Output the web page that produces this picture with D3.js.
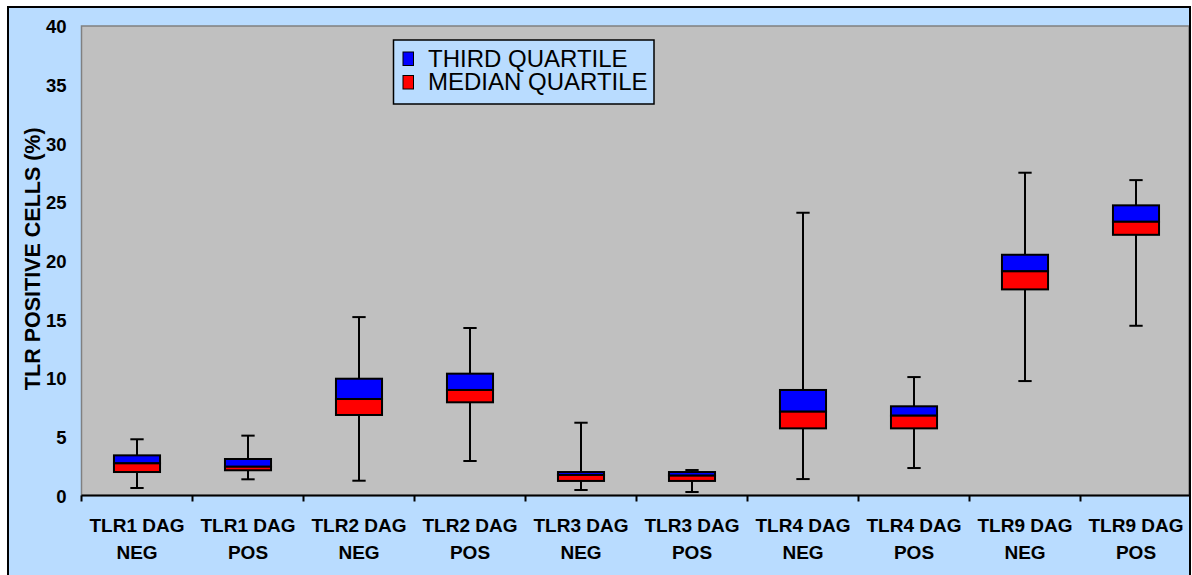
<!DOCTYPE html>
<html>
<head>
<meta charset="utf-8">
<script src="https://cdn.jsdelivr.net/npm/d3@7"></script>
<style>
  html, body { margin: 0; padding: 0; background: #ffffff; }
  svg { display: block; font-family: "Liberation Sans", Arial, sans-serif; }
</style>
</head>
<body>
<svg id="chart" width="1192" height="575"></svg>
<script>
// Groups along the x axis (two-line labels)
const categories = [
  ["TLR1 DAG", "NEG"], ["TLR1 DAG", "POS"],
  ["TLR2 DAG", "NEG"], ["TLR2 DAG", "POS"],
  ["TLR3 DAG", "NEG"], ["TLR3 DAG", "POS"],
  ["TLR4 DAG", "NEG"], ["TLR4 DAG", "POS"],
  ["TLR9 DAG", "NEG"], ["TLR9 DAG", "POS"]
];

// Five-number summaries, % TLR positive cells
const whiskerLow  = [0.64, 1.38, 1.26, 2.94, 0.47, 0.30, 1.40, 2.34, 9.75, 14.46];
const firstQuart  = [2.00, 2.15, 6.86, 7.94, 1.24, 1.24, 5.72, 5.72, 17.56, 22.21];
const medianQuart = [2.74, 2.45, 8.22, 8.99, 1.75, 1.69, 7.14, 6.80, 19.10, 23.32];
const thirdQuart  = [3.42, 3.11, 9.95, 10.38, 2.00, 2.00, 8.99, 7.60, 20.51, 24.72];
const whiskerHigh = [4.79, 5.10, 15.20, 14.27, 6.20, 2.17, 24.09, 10.09, 27.50, 26.87];

const yTicks = [0, 5, 10, 15, 20, 25, 30, 35, 40];
const legendItems = ["THIRD QUARTILE", "MEDIAN QUARTILE"];
const yTitle = "TLR POSITIVE CELLS (%)";

const colors = { third: "#0000FF", median: "#FF0000", plot: "#C0C0C0", frame: "#B9DCFF" };

const svg = d3.select("#chart");
const plot = { left: 81.5, right: 1191.5, top: 26, bottom: 495.5 };

const x = d3.scaleBand()
  .domain(d3.range(categories.length))
  .range([plot.left, plot.right])
  .padding(0);

const y = d3.scaleLinear()
  .domain([0, 40])
  .range([plot.bottom, plot.top]);

// Chart frame
svg.append("rect")
  .attr("x", 8).attr("y", 7)
  .attr("width", 1182).attr("height", 600)
  .attr("fill", colors.frame)
  .attr("stroke", "#000").attr("stroke-width", 2);

// Plot area
svg.append("rect")
  .attr("x", plot.left).attr("y", plot.top)
  .attr("width", 1189 - plot.left).attr("height", plot.bottom - plot.top)
  .attr("fill", colors.plot)
  .attr("stroke", "#808080").attr("stroke-width", 1.5);

// Redraw right frame edge over the plot area
svg.append("line")
  .attr("x1", 1190).attr("x2", 1190).attr("y1", 6).attr("y2", 575)
  .attr("stroke", "#000").attr("stroke-width", 2);

// Y axis tick labels
const yAxis = d3.axisLeft(y).tickValues(yTicks).tickSize(0).tickPadding(15);
const yg = svg.append("g").attr("transform", `translate(${plot.left},0)`).call(yAxis);
yg.select(".domain").remove();
yg.selectAll("text")
  .attr("font-family", "'Liberation Sans', Arial, sans-serif")
  .attr("font-size", 18.5).attr("font-weight", "bold").attr("fill", "#000")
  .attr("dy", "0.36em");

// Y axis title
svg.append("text")
  .attr("transform", `translate(40, ${(plot.top + plot.bottom) / 2 - 2}) rotate(-90)`)
  .attr("text-anchor", "middle")
  .attr("font-size", 21.5).attr("font-weight", "bold")
  .text(yTitle);

// X axis line, tick marks and two-line labels
const xAxis = d3.axisBottom(x).tickSize(0).tickFormat(() => "");
const xg = svg.append("g").attr("transform", `translate(0,${plot.bottom})`).call(xAxis);
xg.select(".domain").remove();
svg.append("line")
  .attr("x1", plot.left).attr("x2", 1190)
  .attr("y1", plot.bottom).attr("y2", plot.bottom)
  .attr("stroke", "#000").attr("stroke-width", 2);
svg.append("g").selectAll("line")
  .data(d3.range(categories.length))
  .join("line")
  .attr("x1", i => x(i)).attr("x2", i => x(i))
  .attr("y1", plot.bottom).attr("y2", plot.bottom + 6)
  .attr("stroke", "#000").attr("stroke-width", 2);

const labels = svg.append("g").selectAll("text")
  .data(categories)
  .join("text")
  .attr("text-anchor", "middle")
  .attr("font-size", 19).attr("font-weight", "bold")
  .attr("x", (d, i) => x(i) + x.bandwidth() / 2);
labels.append("tspan").attr("y", 532).text(d => d[0]);
labels.append("tspan").attr("y", 558.5)
  .attr("x", (d, i) => x(i) + x.bandwidth() / 2).text(d => d[1]);

// Boxes
const boxW = x.bandwidth() * 0.415;
const capW = x.bandwidth() * 0.12;
const boxes = svg.append("g").selectAll("g")
  .data(categories.map((c, i) => i))
  .join("g")
  .attr("transform", i => `translate(${x(i) + x.bandwidth() / 2},0)`);

// whiskers
boxes.append("line")
  .attr("x1", 0).attr("x2", 0)
  .attr("y1", i => y(whiskerHigh[i])).attr("y2", i => y(thirdQuart[i]))
  .attr("stroke", "#000").attr("stroke-width", 2);
boxes.append("line")
  .attr("x1", 0).attr("x2", 0)
  .attr("y1", i => y(firstQuart[i])).attr("y2", i => y(whiskerLow[i]))
  .attr("stroke", "#000").attr("stroke-width", 2);
boxes.append("line")
  .attr("x1", -capW / 2).attr("x2", capW / 2)
  .attr("y1", i => y(whiskerHigh[i])).attr("y2", i => y(whiskerHigh[i]))
  .attr("stroke", "#000").attr("stroke-width", 2);
boxes.append("line")
  .attr("x1", -capW / 2).attr("x2", capW / 2)
  .attr("y1", i => y(whiskerLow[i])).attr("y2", i => y(whiskerLow[i]))
  .attr("stroke", "#000").attr("stroke-width", 2);

// median-to-Q3 segment (blue) and Q1-to-median segment (red)
boxes.append("rect")
  .attr("x", -boxW / 2).attr("width", boxW)
  .attr("y", i => y(thirdQuart[i]))
  .attr("height", i => y(medianQuart[i]) - y(thirdQuart[i]))
  .attr("fill", colors.third).attr("stroke", "#000").attr("stroke-width", 2);
boxes.append("rect")
  .attr("x", -boxW / 2).attr("width", boxW)
  .attr("y", i => y(medianQuart[i]))
  .attr("height", i => y(firstQuart[i]) - y(medianQuart[i]))
  .attr("fill", colors.median).attr("stroke", "#000").attr("stroke-width", 2);

// Legend
const legend = svg.append("g").attr("transform", "translate(393.5,40)");
legend.append("rect")
  .attr("width", 260.5).attr("height", 64)
  .attr("fill", colors.frame).attr("stroke", "#000").attr("stroke-width", 1.5);
const swatch = [colors.third, colors.median];
legendItems.forEach((t, i) => {
  legend.append("rect")
    .attr("x", 9.5).attr("y", 12 + i * 23.5)
    .attr("width", 10.5).attr("height", 13.5)
    .attr("fill", swatch[i]).attr("stroke", "#000").attr("stroke-width", 1);
  legend.append("text")
    .attr("x", 34.5).attr("y", 26.5 + i * 23.8)
    .attr("font-size", 24)
    .text(t);
});
</script>
</body>
</html>
